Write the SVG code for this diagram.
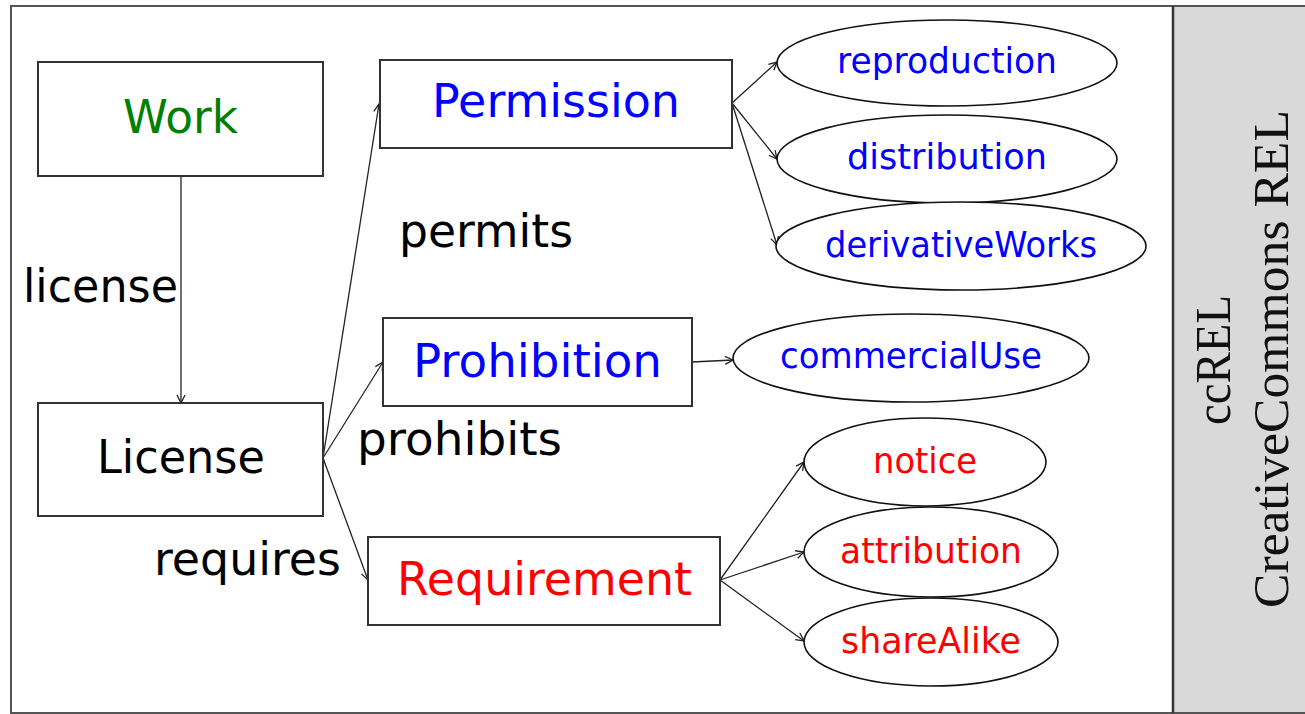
<svg xmlns="http://www.w3.org/2000/svg" width="1305" height="714" viewBox="0 0 1305 714">
<style>
.box{fill:#fff;stroke:#333;stroke-width:2}
.ell{fill:#fff;stroke:#111;stroke-width:1.6}
.t{font-family:"DejaVu Sans","Liberation Sans",sans-serif;text-anchor:middle}
.big{font-size:47px}
.small{font-size:36px}
.lbl{font-family:"DejaVu Sans","Liberation Sans",sans-serif;font-size:47px;fill:#000}
.blue{fill:#0000ff}
.red{fill:#ff0000}
.green{fill:#008000}
.blk{fill:#000}
.edge{stroke:#222;stroke-width:1.3;fill:none;marker-end:url(#arr)}
.side{font-family:"Liberation Serif","Times New Roman",serif;font-size:50px;fill:#111;text-anchor:middle}
</style>
<defs>
<marker id="arr" markerUnits="userSpaceOnUse" markerWidth="12" markerHeight="12" refX="9" refY="5" orient="auto">
<path d="M1,1 L9,5 L1,9" fill="none" stroke="#222" stroke-width="1.3"/>
</marker>
</defs>
<rect x="0" y="0" width="1305" height="714" fill="#fff"/>
<g id="frame">
<rect x="1174" y="6" width="135" height="707" fill="#d9d9d9"/>
<rect x="11" y="6" width="1300" height="707" fill="none" stroke="#555" stroke-width="2"/>
<line x1="1173" y1="6" x2="1173" y2="713" stroke="#333" stroke-width="2.5"/>
<g transform="translate(1230,360) rotate(-90)"><text class="side" x="0" y="0" textLength="130" lengthAdjust="spacingAndGlyphs">ccREL</text></g>
<g transform="translate(1288,359) rotate(-90)"><text class="side" x="0" y="0" textLength="498" lengthAdjust="spacingAndGlyphs">CreativeCommons REL</text></g>
</g>
<g id="connectors">
<line class="edge" x1="181" y1="176" x2="181" y2="403"/>
<line class="edge" x1="323" y1="458" x2="379" y2="104"/>
<line class="edge" x1="323" y1="458" x2="383" y2="362"/>
<line class="edge" x1="323" y1="458" x2="368" y2="580"/>
<line class="edge" x1="732" y1="103" x2="777" y2="62"/>
<line class="edge" x1="732" y1="103" x2="777" y2="159"/>
<line class="edge" x1="732" y1="103" x2="777" y2="245"/>
<line class="edge" x1="692" y1="362" x2="733" y2="360"/>
<line class="edge" x1="720" y1="580" x2="804" y2="462"/>
<line class="edge" x1="720" y1="580" x2="804" y2="552"/>
<line class="edge" x1="720" y1="580" x2="804" y2="641"/>
<text class="lbl" x="23" y="302" textLength="155" lengthAdjust="spacingAndGlyphs">license</text>
<text class="lbl" x="399" y="247" textLength="174" lengthAdjust="spacingAndGlyphs">permits</text>
<text class="lbl" x="357" y="455" textLength="205" lengthAdjust="spacingAndGlyphs">prohibits</text>
<text class="lbl" x="154" y="575" textLength="187" lengthAdjust="spacingAndGlyphs">requires</text>
</g>
<g id="work"><rect class="box" x="38" y="62" width="285" height="114"/><text class="t big green" x="180.5" y="133" textLength="115" lengthAdjust="spacingAndGlyphs">Work</text></g>
<g id="license"><rect class="box" x="38" y="403" width="285" height="113"/><text class="t big blk" x="181" y="473" textLength="168" lengthAdjust="spacingAndGlyphs">License</text></g>
<g id="permission"><rect class="box" x="380" y="60" width="352" height="88"/><text class="t big blue" x="556" y="117" textLength="248" lengthAdjust="spacingAndGlyphs">Permission</text></g>
<g id="prohibition"><rect class="box" x="383" y="318" width="309" height="88"/><text class="t big blue" x="537.5" y="377" textLength="249" lengthAdjust="spacingAndGlyphs">Prohibition</text></g>
<g id="requirement"><rect class="box" x="368" y="537" width="352" height="88"/><text class="t big red" x="544.5" y="595" textLength="295" lengthAdjust="spacingAndGlyphs">Requirement</text></g>
<g id="reproduction"><ellipse class="ell" cx="947" cy="63" rx="170" ry="43"/><text class="t small blue" x="947" y="73" textLength="220" lengthAdjust="spacingAndGlyphs">reproduction</text></g>
<g id="distribution"><ellipse class="ell" cx="947" cy="159" rx="170" ry="44"/><text class="t small blue" x="947" y="169" textLength="200" lengthAdjust="spacingAndGlyphs">distribution</text></g>
<g id="derivativeWorks"><ellipse class="ell" cx="961" cy="246" rx="185" ry="44"/><text class="t small blue" x="961" y="257" textLength="272" lengthAdjust="spacingAndGlyphs">derivativeWorks</text></g>
<g id="commercialUse"><ellipse class="ell" cx="911" cy="358" rx="178" ry="44"/><text class="t small blue" x="911" y="368" textLength="262" lengthAdjust="spacingAndGlyphs">commercialUse</text></g>
<g id="notice"><ellipse class="ell" cx="925" cy="462" rx="121" ry="44"/><text class="t small red" x="925" y="473" textLength="104" lengthAdjust="spacingAndGlyphs">notice</text></g>
<g id="attribution"><ellipse class="ell" cx="931" cy="552" rx="127" ry="45"/><text class="t small red" x="931" y="563" textLength="182" lengthAdjust="spacingAndGlyphs">attribution</text></g>
<g id="shareAlike"><ellipse class="ell" cx="931" cy="642" rx="127" ry="44"/><text class="t small red" x="931" y="653" textLength="180" lengthAdjust="spacingAndGlyphs">shareAlike</text></g>
</svg>
